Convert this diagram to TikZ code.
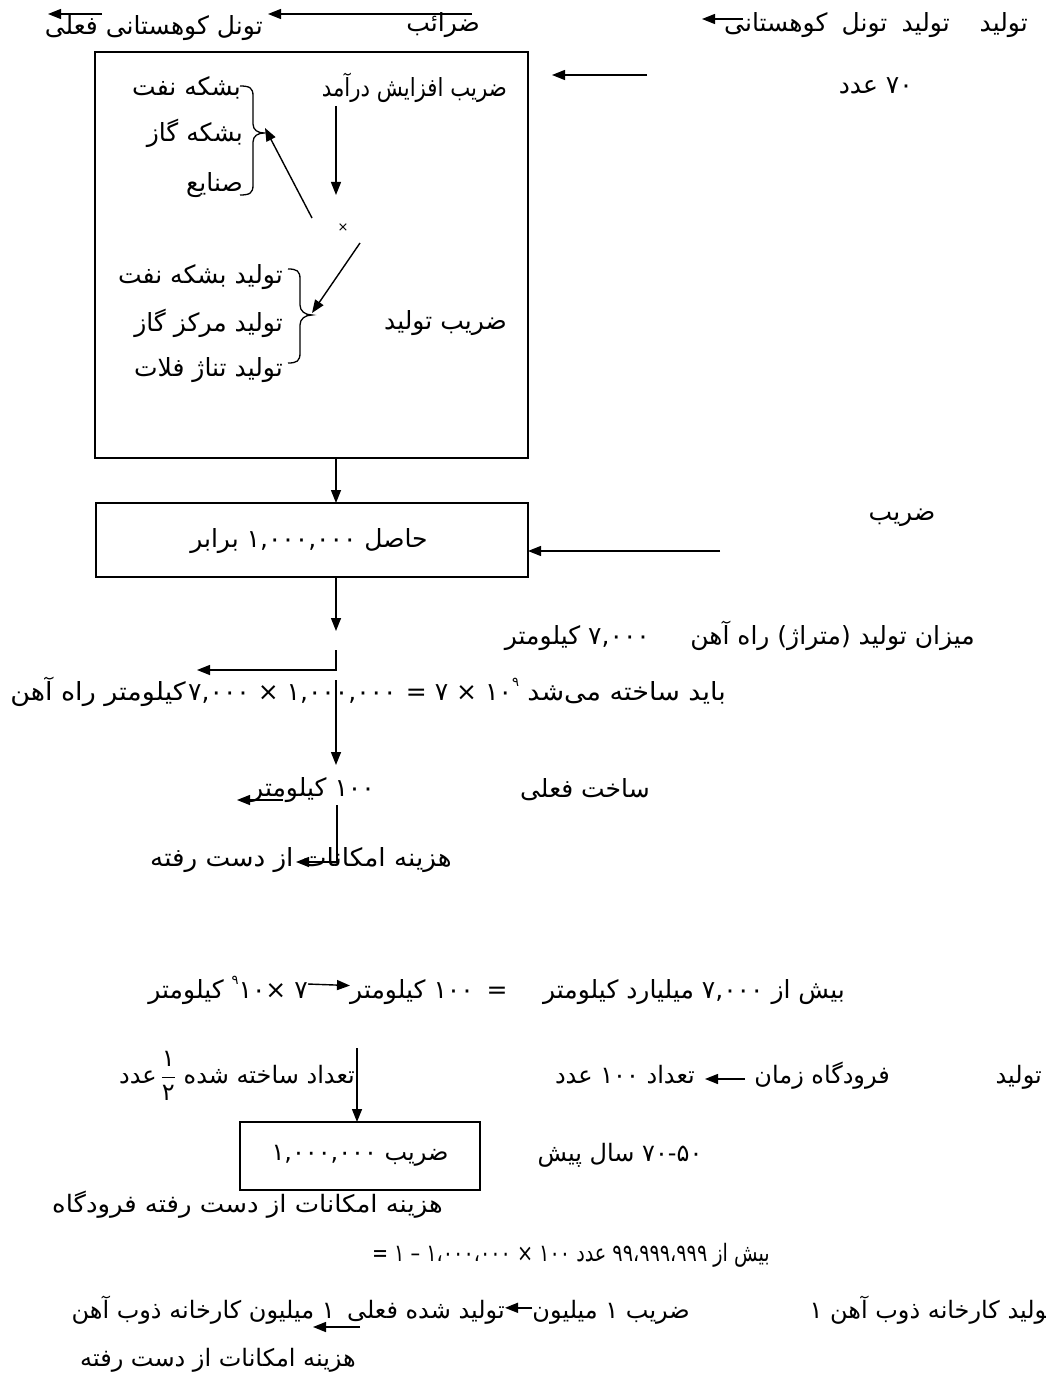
\documentclass[tikz,border=0pt]{standalone}
\usepackage{fontspec}
\usepackage{graphicx}
\newfontfamily\persian[Script=Arabic]{DejaVu Sans}
\TeXXeTstate=1
\usetikzlibrary{arrows.meta}
\newcommand{\RL}[1]{\beginR #1\endR}
\newcommand{\nm}[1]{\mbox{#1}}
\newcommand{\spw}[2]{\mbox{#1\raisebox{0.55em}{\fontsize{13}{13}\selectfont #2}}}
\newcommand{\halfp}{\mbox{$\displaystyle\frac{\hbox{۱}}{\hbox{۲}}$}}
\begin{document}
\begin{tikzpicture}[x=1pt,y=-1pt,
  t/.style={font=\persian\fontsize{25}{29}\selectfont, inner sep=0pt},
  tl/.style={font=\persian\fontsize{24}{28}\selectfont, inner sep=0pt},
  ar/.style={-{Triangle[length=13pt,width=10pt]}, line width=1.4pt},
  bx/.style={draw, line width=1.6pt, inner sep=0pt, outer sep=0pt},
  brace/.style={line width=1.3pt}]
\fill[white] (0,0) rectangle (1045,1388);
\useasboundingbox (0,0) rectangle (1045,1388);

% ---------- row 1
\node[t, anchor=east] (r1a) at (1028,25) {\RL{تولید}};
\node[t, anchor=east] (r1b) at (950,25) {\RL{تولید\hspace{0.25em} تونل\hspace{0.25em} کوهستانی}};
\node[t, anchor=east] (r1c) at (480,25) {\RL{ضرائب}};
\node[t, anchor=east] (r1d) at (263,28) {\RL{تونل کوهستانی فعلی}};
\coordinate (a1s) at (743,19); \coordinate (a1e) at (702,19);
\coordinate (a2s) at (472,14); \coordinate (a2e) at (268,14);
\coordinate (a3s) at (102,14); \coordinate (a3e) at (48,14);
\draw[ar] (a1s) -- (a1e);
\draw[ar] (a2s) -- (a2e);
\draw[ar] (a3s) -- (a3e);

% ---------- main box
\node[bx, minimum width=433pt, minimum height=406pt, anchor=north west] (box1) at (95,52) {};
\node[t, anchor=east] (zaf) at (507,88) {\scalebox{0.85}[1]{\RL{ضریب افزایش درآمد}}};
\node[t, anchor=east] (bn) at (241,88) {\RL{بشکه نفت}};
\node[t, anchor=east] (bg) at (243,133) {\RL{بشکه گاز}};
\node[t, anchor=east] (sn) at (243,185) {\RL{صنایع}};
\draw[brace] (240,86) .. controls (250,86) and (253,88) .. (253,96) -- (253,124)
  .. controls (253,130) and (258,133) .. (264,133)
  .. controls (258,133) and (253,136) .. (253,142) -- (253,185)
  .. controls (253,193) and (250,195) .. (240,195);
\coordinate (b1tip) at (265,128);
\node[font=\persian\fontsize{13}{13}\selectfont, inner sep=0pt] (mul) at (343,228) {×};
\coordinate (v1s) at (336,106); \coordinate (v1e) at (336,195);
\draw[ar] (v1s) -- (v1e);
\coordinate (d1s) at (312,218);
\draw[ar] (d1s) -- (b1tip);
\coordinate (d2s) at (360,243); \coordinate (b2tip) at (312,313);
\draw[ar] (d2s) -- (b2tip);
\draw[brace] (288,269) .. controls (297,269) and (300,271) .. (300,279) -- (300,305)
  .. controls (300,311) and (305,315) .. (312,315)
  .. controls (305,315) and (300,319) .. (300,325) -- (300,353)
  .. controls (300,361) and (297,363) .. (288,363);
\node[t, anchor=east] (tb) at (283,277) {\RL{تولید بشکه نفت}};
\node[t, anchor=east] (tm) at (283,323) {\RL{تولید مرکز گاز}};
\node[t, anchor=east] (tt) at (283,370) {\RL{تولید تناژ فلات}};
\node[t, anchor=east] (zt) at (507,323) {\RL{ضریب تولید}};

\coordinate (a4s) at (647,75); \coordinate (a4e) at (552,75);
\draw[ar] (a4s) -- (a4e);
\node[t, anchor=east] (n70) at (913,86) {\RL{\nm{۷۰} عدد}};

% ---------- box 2
\coordinate (v2s) at (336,458); \coordinate (v2e) at (336,503);
\draw[ar] (v2s) -- (v2e);
\node[bx, minimum width=432pt, minimum height=74pt, anchor=north west] (box2) at (96,503) {};
\node[t] (box2t) at (309,541) {\RL{حاصل \nm{۱,۰۰۰,۰۰۰} برابر}};
\coordinate (a5s) at (720,551); \coordinate (a5e) at (528,551);
\draw[ar] (a5s) -- (a5e);
\node[t] (zr) at (902,518) {\RL{ضریب}};
\coordinate (v3s) at (336,577); \coordinate (v3e) at (336,631);
\draw[ar] (v3s) -- (v3e);

% ---------- railway lines
\node[t, anchor=east] (lm) at (975,636) {\RL{میزان تولید (متراژ) راه آهن\hspace{1.3em} \nm{۷,۰۰۰} کیلومتر}};
\coordinate (l1a) at (336,650); \coordinate (l1b) at (336,670); \coordinate (l1c) at (197,670);
\draw[ar] (l1a) -- (l1b) -- (l1c);
\node[t, anchor=base west] (lbB) at (188,700) {\nm{۷,۰۰۰ × ۱,۰۰۰,۰۰۰}};
\node[t, anchor=base east] (lbA) at ([xshift=-2pt]lbB.base west) {\scalebox{1.08}[1]{\RL{کیلومتر راه آهن}}};
\node[t, anchor=base west] (lbC) at ([xshift=9pt]lbB.base east) {\nm{= ۷ × \spw{۱۰}{۹}}};
\node[t, anchor=base west] (lbD) at ([xshift=8pt]lbC.base east) {\scalebox{1.08}[1]{\RL{باید ساخته می‌شد}}};
\coordinate (v4s) at (336,680); \coordinate (v4e) at (336,765);
\draw[ar] (v4s) -- (v4e);
\node[t, anchor=east] (sf1) at (650,790) {\RL{ساخت فعلی}};
\node[t, anchor=east] (sf2) at (375,790) {\RL{\nm{۱۰۰} کیلومتر}};
\draw[ar] ([shift={(32pt,-10pt)}]sf2.west) -- ([shift={(-14pt,-10pt)}]sf2.west);
\coordinate (l2a) at (337,805); \coordinate (l2b) at (337,862); \coordinate (l2c) at (296,862);
\draw[ar] (l2a) -- (l2b) -- (l2c);
\node[t, anchor=west] (hz1) at (150,860) {\scalebox{1.05}[1]{\RL{هزینه امکانات از دست رفته}}};

\node[t, anchor=base east] (k1) at (845,998) {\RL{بیش از \nm{۷,۰۰۰} میلیارد کیلومتر}};
\node[t, anchor=base] (keq) at (497,998) {=};
\node[t, anchor=base east] (k2) at (474,998) {\RL{\nm{۱۰۰} کیلومتر}};
\node[t, anchor=base east] (k3) at ([xshift=-42pt]k2.base west) {\RL{\nm{۷ ×\spw{۱۰}{۹}} کیلومتر}};
\draw[ar] ([yshift=6pt]k3.east) -- ([yshift=6pt]k2.west);

% ---------- airport
\node[tl, anchor=base east] (p1) at (1042,1083) {\RL{تولید}};
\node[tl, anchor=base east] (p2) at (890,1083) {\RL{فرودگاه زمان}};
\coordinate (a7s) at (745,1079); \coordinate (a7e) at (705,1079);
\draw[ar] (a7s) -- (a7e);
\node[tl, anchor=base east] (p3) at (695,1083) {\RL{تعداد \nm{۱۰۰} عدد}};
\node[tl, anchor=base east] (p4) at (355,1083) {\RL{تعداد ساخته شده \halfp\,عدد}};
\node[bx, minimum width=240pt, minimum height=68pt, anchor=north west] (box3) at (240,1122) {};
\node[tl] (box3t) at (360,1156) {\RL{ضریب \nm{۱,۰۰۰,۰۰۰}}};
\coordinate (v5s) at (357,1048);
\draw[ar] (v5s) -- (v5s |- box3.north);
\node[tl] (p5) at (620,1155) {\RL{\nm{۷۰-۵۰} سال پیش}};
\node[tl, anchor=west] (hz2) at (52,1205) {\scalebox{1.08}[1]{\RL{هزینه امکانات از دست رفته فرودگاه}}};
\node[tl, anchor=east] (p6) at (770,1255) {\scalebox{0.8}[1]{\RL{بیش از \nm{۹۹،۹۹۹،۹۹۹} عدد \nm{۱۰۰ × ۱،۰۰۰،۰۰۰ – ۱ =}}}};

% ---------- steel
\node[tl, anchor=base east] (q1) at (1054,1318) {\RL{تولید کارخانه ذوب آهن \nm{۱}}};
\node[tl, anchor=base east] (q2) at (690,1318) {\RL{ضریب \nm{۱} میلیون}};
\node[tl, anchor=base east] (q3) at (505,1318) {\RL{تولید شده فعلی}};
\draw[ar] ([yshift=4pt]q2.west) -- ([yshift=4pt]q3.east);
\node[tl, anchor=base east] (q4) at (335,1318) {\RL{\nm{۱} میلیون کارخانه ذوب آهن}};
\coordinate (a8s) at (360,1327); \coordinate (a8e) at (313,1327);
\draw[ar] (a8s) -- (a8e);
\node[tl, anchor=west] (hz3) at (80,1360) {\RL{هزینه امکانات از دست رفته}};
\end{tikzpicture}
\end{document}
